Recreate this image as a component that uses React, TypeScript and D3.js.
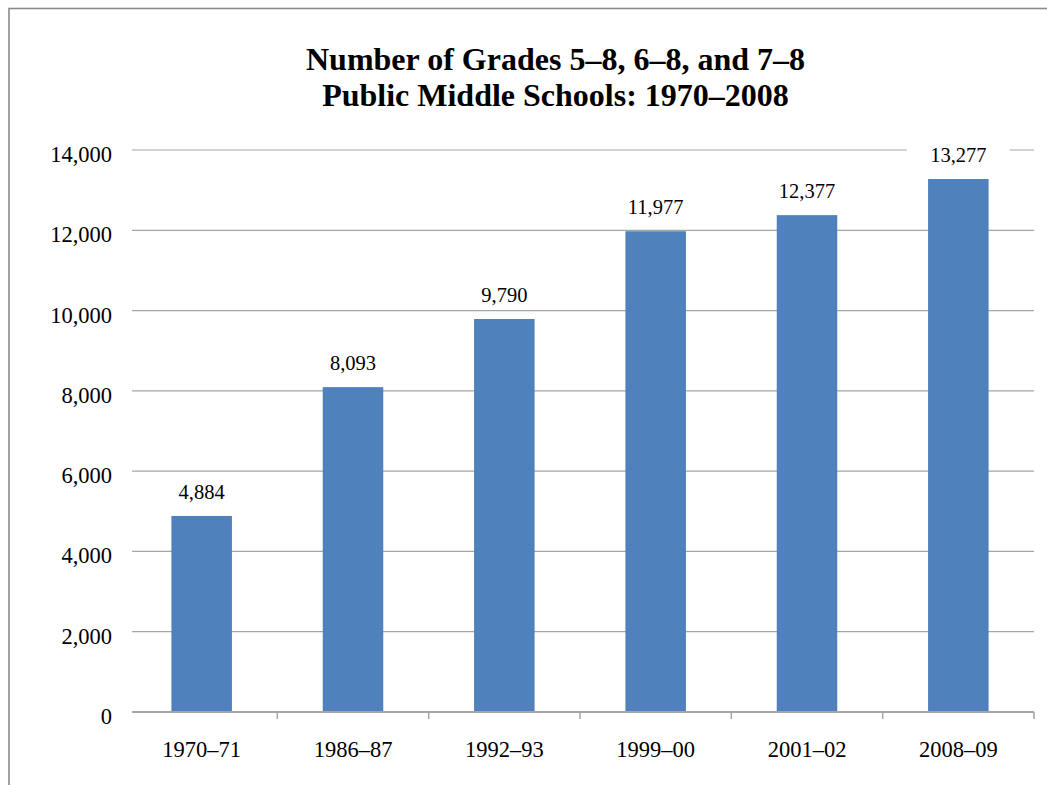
import React from "react";
import * as d3 from "d3";

const categories = ["1970–71", "1986–87", "1992–93", "1999–00", "2001–02", "2008–09"];
const values = [4884, 8093, 9790, 11977, 12377, 13277];
const yTicks = [0, 2000, 4000, 6000, 8000, 10000, 12000, 14000];
const titleLines = ["Number of Grades 5–8, 6–8, and 7–8", "Public Middle Schools: 1970–2008"];

const W = 1047;
const H = 785;
const plotLeft = 132;
const plotRight = 1034;
const bandLeft = 126;
const yTop = 150;
const yBottom = 712;
const FONT = "'Liberation Serif', 'Times New Roman', Times, serif";

export default function App() {
  const x = d3
    .scaleBand<string>()
    .domain(categories)
    .range([bandLeft, plotRight])
    .paddingInner(0.6)
    .paddingOuter(0.3);
  const y = d3.scaleLinear().domain([0, 14000]).range([yBottom, yTop]);
  const fmt = d3.format(",");
  const step = x.step();
  const boundaries = categories.map((c) => (x(c) as number) - x.paddingOuter() * step + step * (1 - 0) );

  return (
    <svg
      width={W}
      height={H}
      style={{ position: "absolute", left: 0, top: 0, background: "#fff" }}
      fontFamily={FONT}
    >
      <rect x={9} y={8.5} width={1200} height={1000} fill="#fff" stroke="#8a8a8a" strokeWidth={1.6} />
      {titleLines.map((t, i) => (
        <text key={t} x={555.5} y={70 + i * 36} textAnchor="middle" fontSize={32} fontWeight="bold" fill="#000">
          {t}
        </text>
      ))}
      {yTicks.map((v) => (
        <g key={v}>
          {v > 0 && (
            <line x1={plotLeft} x2={plotRight} y1={y(v)} y2={y(v)} stroke="#a5a5a5" strokeWidth={1.2} />
          )}
          <text x={112} y={y(v) + 12} textAnchor="end" fontSize={22.5} fill="#000">
            {fmt(v)}
          </text>
        </g>
      ))}
      {categories.map((c, i) => {
        const bx = x(c) as number;
        const by = y(values[i]);
        const label = fmt(values[i]);
        const lw = label.length * 10.5;
        return (
          <g key={c}>
            <rect x={bx} y={by} width={x.bandwidth()} height={yBottom - by} fill="#4F81BD" />
            <rect
              x={bx + x.bandwidth() / 2 - lw / 2 - 20}
              y={by - 38}
              width={lw + 40}
              height={28}
              fill="#fff"
            />
            <text x={bx + x.bandwidth() / 2} y={by - 17} textAnchor="middle" fontSize={20.5} fill="#000">
              {label}
            </text>
            <text x={bx + x.bandwidth() / 2} y={757} textAnchor="middle" fontSize={22.5} fill="#000">
              {c}
            </text>
          </g>
        );
      })}
      <line x1={plotLeft} x2={plotRight} y1={yBottom} y2={yBottom} stroke="#a5a5a5" strokeWidth={1.8} />
      {boundaries.map((bxv, i) => (
        <line key={i} x1={bxv} x2={bxv} y1={yBottom} y2={yBottom + 7} stroke="#a5a5a5" strokeWidth={1.5} />
      ))}
    </svg>
  );
}
